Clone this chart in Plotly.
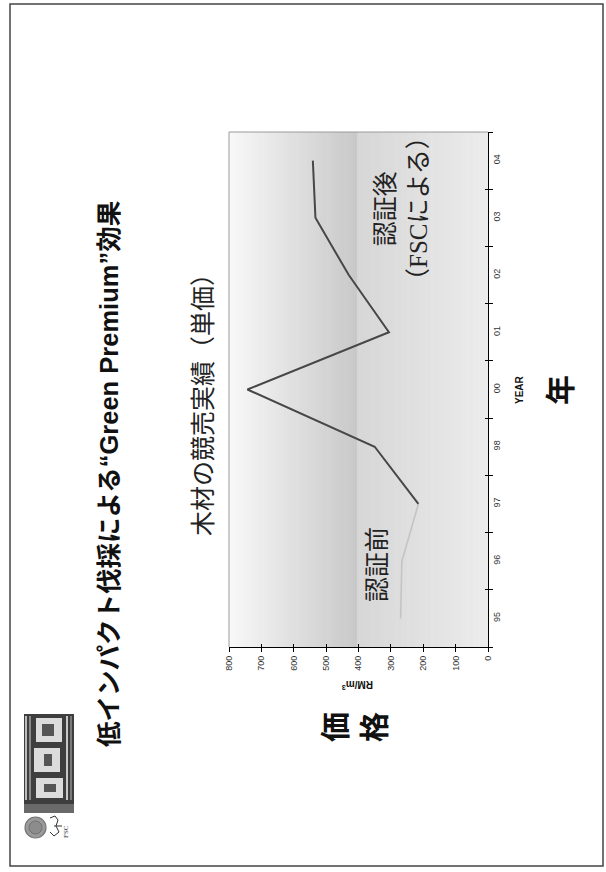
import plotly.graph_objects as go

# Auction price per cubic metre, by year (fiscal year labels)
years = ["95", "96", "97", "98", "00", "01", "02", "03", "04"]
before_years = ["95", "96", "97"]
before_price = [270, 266, 215]
after_years = ["97", "98", "00", "01", "02", "03", "04"]
after_price = [215, 350, 743, 306, 430, 533, 541]
price_ticks = [0, 100, 200, 300, 400, 500, 600, 700, 800]

W, H = 606, 872
L, R, T, B = 229, 488, 132, 647   # plot area in pixels


def fx(px):
    return (px - L) / (R - L)


def fy(py):
    return (B - py) / (B - T)


fig = go.Figure()

fig.add_trace(go.Scatter(x=before_price, y=before_years, mode="lines",
                         line=dict(color="#c4c4c4", width=1.6),
                         showlegend=False, hoverinfo="skip"))
fig.add_trace(go.Scatter(x=after_price, y=after_years, mode="lines",
                         line=dict(color="#474747", width=2),
                         showlegend=False, hoverinfo="skip"))

shapes = []


def lerp_grey(a, b, t):
    v = round(a + (b - a) * t)
    return f"rgb({v},{v},{v})"


# plot background: light-to-dark band, then a lighter ramp to the axis
split = 0.494
n = 60
for i in range(n):
    x0 = split * i / n
    x1 = split * (i + 1) / n
    shapes.append(dict(type="rect", xref="x domain", yref="y domain",
                       x0=x0, x1=x1 + 0.002, y0=0, y1=1, layer="below",
                       line=dict(width=0),
                       fillcolor=lerp_grey(248, 200, (i + 0.5) / n)))
for i in range(n):
    x0 = split + (1 - split) * i / n
    x1 = split + (1 - split) * (i + 1) / n
    shapes.append(dict(type="rect", xref="x domain", yref="y domain",
                       x0=x0, x1=x1 + 0.002, y0=0, y1=1, layer="below",
                       line=dict(width=0),
                       fillcolor=lerp_grey(214, 236, (i + 0.5) / n)))

# grey frame on the two open sides of the plot
shapes.append(dict(type="line", xref="x domain", yref="y domain",
                   x0=0, x1=1, y0=1, y1=1, line=dict(color="#9a9a9a", width=1)))
shapes.append(dict(type="line", xref="x domain", yref="y domain",
                   x0=0, x1=0, y0=0, y1=1, line=dict(color="#9a9a9a", width=1)))

# slide border
shapes.append(dict(type="rect", xref="paper", yref="paper",
                   x0=fx(10), x1=fx(603), y0=fy(866), y1=fy(4),
                   line=dict(color="#444444", width=1.5)))

# logo block (greyscale emblem with pale lettering)
shapes.append(dict(type="rect", xref="paper", yref="paper",
                   x0=fx(24), x1=fx(74), y0=fy(813), y1=fy(714),
                   line=dict(width=0), fillcolor="#3e3e3e"))
for (a, b_, c) in [(25, 27, "#bdbdbd"), (29, 31, "#8a8a8a"), (66, 68, "#c8c8c8"),
                   (70, 72, "#7a7a7a")]:
    shapes.append(dict(type="rect", xref="paper", yref="paper",
                       x0=fx(a), x1=fx(b_), y0=fy(800), y1=fy(716),
                       line=dict(width=0), fillcolor=c))
for (x0, x1, y0, y1) in [(36, 62, 718, 742), (34, 60, 748, 772), (36, 63, 778, 798)]:
    shapes.append(dict(type="rect", xref="paper", yref="paper",
                       x0=fx(x0), x1=fx(x1), y0=fy(y1), y1=fy(y0),
                       line=dict(width=0), fillcolor="#dcdcdc"))
for (x0, x1, y0, y1) in [(42, 54, 724, 736), (44, 52, 754, 766), (44, 56, 784, 792)]:
    shapes.append(dict(type="rect", xref="paper", yref="paper",
                       x0=fx(x0), x1=fx(x1), y0=fy(y1), y1=fy(y0),
                       line=dict(width=0), fillcolor="#555555"))
shapes.append(dict(type="rect", xref="paper", yref="paper",
                   x0=fx(24), x1=fx(74), y0=fy(813), y1=fy(804),
                   line=dict(width=0), fillcolor="#6a6a6a"))
# seal
shapes.append(dict(type="circle", xref="paper", yref="paper",
                   x0=fx(25), x1=fx(46), y0=fy(838), y1=fy(817),
                   line=dict(color="#777777", width=1.2), fillcolor="#9a9a9a"))
shapes.append(dict(type="circle", xref="paper", yref="paper",
                   x0=fx(29), x1=fx(42), y0=fy(834), y1=fy(821),
                   line=dict(color="#6a6a6a", width=0.8), fillcolor="#8c8c8c"))
# small tree mark
shapes.append(dict(type="path", xref="paper", yref="paper",
                   path=(f"M {fx(50)},{fy(818)} L {fx(55)},{fy(816)} L {fx(58)},{fy(820)} "
                         f"L {fx(56)},{fy(826)} L {fx(59)},{fy(832)} L {fx(54)},{fy(836)} "
                         f"L {fx(50)},{fy(832)} M {fx(54)},{fy(826)} L {fx(62)},{fy(826)}"),
                   line=dict(color="#333333", width=1)))

CJK = "Noto Sans CJK JP"
ann = []


def note(text, px, py, size, angle=-90, bold=False, family=None, color="#222222"):
    ann.append(dict(text=f"<b>{text}</b>" if bold else text,
                    xref="paper", yref="paper", x=fx(px), y=fy(py),
                    xanchor="center", yanchor="middle", showarrow=False,
                    textangle=angle,
                    font=dict(size=size, color=color,
                              family=family or f"Liberation Sans, {CJK}")))


note("低インパクト伐採による“Green Premium”効果", 109, 474, 25.5, bold=True,
     color="#111111")
note("木材の競売実績（単価）", 201, 399, 25, family=CJK, color="#222222")
note("認証後<br>（FSCによる）", 402, 209, 25,
     family=f"Liberation Serif, {CJK}", color="#222222")
note("認証前", 375, 565, 25, family=CJK, color="#222222")
note("価<br>格", 352, 727, 30, bold=True, family=CJK, color="#111111")
note("RM/m<sup>3</sup>", 358, 685, 10, angle=180, bold=True, color="#111111")
note("YEAR", 519, 390, 10, bold=True, color="#111111")
note("年", 558, 390, 30, bold=True, family=CJK, color="#111111")
note("FSC", 66, 832, 7, family="Liberation Serif", color="#333333")

tickfont = dict(family="Liberation Sans", size=9, color="#333333")

fig.update_layout(
    width=W, height=H,
    margin=dict(l=L, r=W - R, t=T, b=H - B),
    paper_bgcolor="white", plot_bgcolor="rgba(0,0,0,0)",
    shapes=shapes, annotations=ann,
    xaxis=dict(range=[800, 0], tickvals=price_ticks,
               ticktext=[str(v) for v in price_ticks],
               ticks="outside", ticklen=4, tickcolor="black", tickwidth=1,
               showline=True, linecolor="black", linewidth=1.2,
               showgrid=False, zeroline=False, tickangle=-90,
               tickfont=tickfont, fixedrange=True),
    xaxis2=dict(range=[800, 0], tickvals=price_ticks, overlaying="x",
                anchor="y", side="bottom", ticks="inside", ticklen=3,
                tickcolor="black", showticklabels=False, showline=False,
                showgrid=False, zeroline=False),
    yaxis=dict(type="category", categoryarray=years, categoryorder="array",
               range=[-0.5, len(years) - 0.5], side="right",
               tickson="boundaries", ticks="outside", ticklen=4,
               tickcolor="black", tickwidth=1,
               showline=True, linecolor="black", linewidth=1.2,
               showgrid=False, zeroline=False, tickangle=-90,
               tickfont=tickfont, fixedrange=True),
    yaxis2=dict(range=[-0.5, len(years) - 0.5], overlaying="y", anchor="x",
                side="right", tickvals=[i - 0.5 for i in range(len(years) + 1)],
                ticks="inside", ticklen=3, tickcolor="black",
                showticklabels=False, showline=False, showgrid=False,
                zeroline=False),
)

# empty trace so the overlay axes are drawn
fig.add_trace(go.Scatter(x=[None], y=[None], xaxis="x2", yaxis="y2",
                         showlegend=False, hoverinfo="skip"))

fig.write_html("out.html")
